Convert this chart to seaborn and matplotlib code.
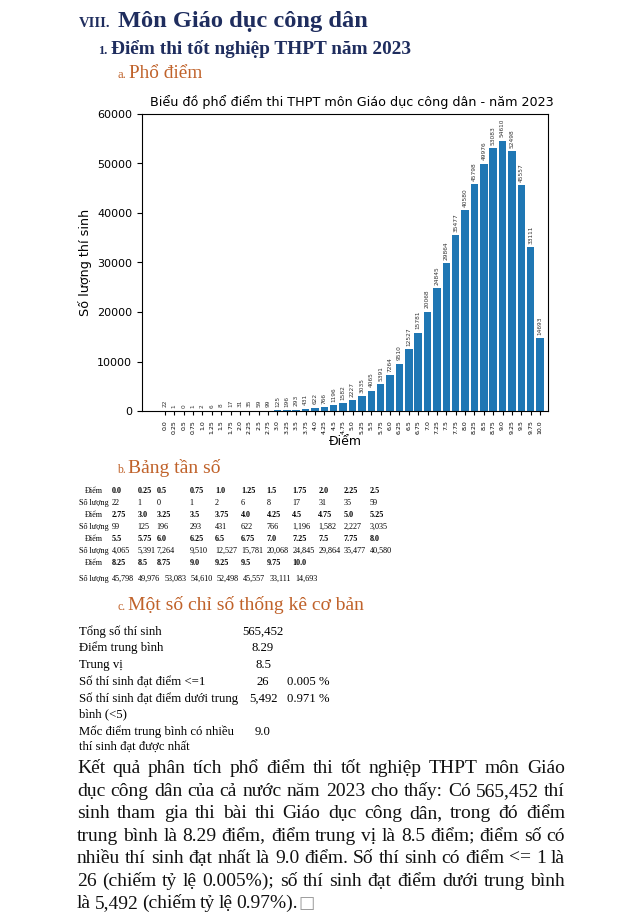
import matplotlib
matplotlib.use("Agg")
import matplotlib.pyplot as plt
import seaborn as sns

# du lieu pho diem
scores = ["0.0", "0.25", "0.5", "0.75", "1.0", "1.25", "1.5", "1.75", "2.0", "2.25", "2.5",
          "2.75", "3.0", "3.25", "3.5", "3.75", "4.0", "4.25", "4.5", "4.75", "5.0", "5.25",
          "5.5", "5.75", "6.0", "6.25", "6.5", "6.75", "7.0", "7.25", "7.5", "7.75", "8.0",
          "8.25", "8.5", "8.75", "9.0", "9.25", "9.5", "9.75", "10.0"]
counts = [22, 1, 0, 1, 2, 6, 8, 17, 31, 35, 59,
          99, 125, 196, 293, 431, 622, 766, 1196, 1582, 2227, 3035,
          4065, 5391, 7264, 9510, 12527, 15781, 20068, 24845, 29864, 35477, 40580,
          45798, 49976, 53083, 54610, 52498, 45557, 33111, 14693]

stat_labels = [["Tổng số thí sinh"], ["Điểm trung bình"], ["Trung vị"], ["Số thí sinh đạt điểm <=1"],
               ["Số thí sinh đạt điểm dưới trung", "bình (<5)"],
               ["Mốc điểm trung bình có nhiều", "thí sinh đạt được nhất"]]
stat_values = ["565,452", "8.29", "8.5", "26", "5,492", "9.0"]
stat_pcts = ["", "", "", "0.005 %", "0.971 %", ""]

paragraph = [
    "Kết quả phân tích phổ điểm thi tốt nghiệp THPT môn Giáo",
    "dục công dân của cả nước năm 2023 cho thấy: Có 565,452 thí",
    "sinh tham gia thi bài thi Giáo dục công dân, trong đó điểm",
    "trung bình là 8.29 điểm, điểm trung vị là 8.5 điểm; điểm số có",
    "nhiều thí sinh đạt nhất là 9.0 điểm. Số thí sinh có điểm <= 1 là",
    "26 (chiếm tỷ lệ 0.005%); số thí sinh đạt điểm dưới trung bình",
    "là 5,492 (chiếm tỷ lệ 0.97%).",
]

W, H = 640, 922
NAVY = "#1f2d5e"
ORANGE = "#c0622a"
SERIF = ["Liberation Serif", "DejaVu Serif", "DejaVu Sans"]

fig = plt.figure(figsize=(W / 100, H / 100), dpi=100)
fig.patch.set_facecolor("white")


def put(x, y, s, **kw):
    kw.setdefault("family", SERIF)
    kw.setdefault("va", "baseline")
    return fig.text(x / W, 1 - y / H, s, **kw)


# headings
put(79, 27, "VIII.", fontsize=10.5, weight="bold", color=NAVY)
put(118, 27, "Môn Giáo dục công dân", fontsize=17.6, weight="bold", color=NAVY)
put(98, 54, "1.", fontsize=9, weight="bold", color=NAVY)
put(111, 54, "Điểm thi tốt nghiệp THPT năm 2023", fontsize=13.9, weight="bold", color=NAVY)
put(117, 78, "a.", fontsize=9, color=ORANGE)
put(129, 78, "Phổ điểm", fontsize=13.9, color=ORANGE)

# bieu do
ax = fig.add_axes([142 / W, 1 - 411 / H, 406 / W, (411 - 114) / H])
sns.barplot(x=scores, y=counts, color="#1f77b4", saturation=1, width=0.8, ax=ax)
for i, v in enumerate(counts):
    ax.text(i, v + 700, str(v), rotation=90, ha="center", va="bottom", fontsize=4.2, color="#333333")
ax.set_xlim(-2.45, len(scores) - 1 + 0.85)
ax.set_ylim(0, 60000)
ax.set_yticks(range(0, 60001, 10000))
ax.tick_params(axis="y", labelsize=8)
ax.tick_params(axis="x", labelsize=4.5, labelrotation=90, length=3)
ax.set_xlabel("Điểm", fontsize=9, labelpad=1)
ax.set_ylabel("Số lượng thí sinh", fontsize=9.2)
ax.set_title("Biểu đồ phổ điểm thi THPT môn Giáo dục công dân - năm 2023", fontsize=9.2, x=0.517)

# bang tan so
put(117, 473, "b.", fontsize=8.5, color=ORANGE)
put(128, 473, "Bảng tần số", fontsize=14, color=ORANGE)
col_x = [111.7, 137.3, 156.7, 189.3, 215, 241, 266.7, 292.3, 318.3, 344, 370]
row_y = [493, 505, 517, 529, 541, 553, 565]
fs_t = 5.9
for r in range(4):
    part_s = scores[r * 11:(r + 1) * 11]
    part_c = counts[r * 11:(r + 1) * 11]
    put(85, row_y[2 * r], "Điểm", fontsize=fs_t)
    for cx, s in zip(col_x, part_s):
        put(cx, row_y[2 * r], s, fontsize=fs_t, weight="bold")
    if r < 3:
        put(79, row_y[2 * r + 1], "Số lượng", fontsize=fs_t)
        for cx, c in zip(col_x, part_c):
            put(cx, row_y[2 * r + 1], f"{c:,}", fontsize=fs_t)
    else:
        put(79, 581, "Số lượng", fontsize=fs_t)
        for j, c in enumerate(part_c):
            put(111.7 + j * 26.3, 581, f"{c:,}", fontsize=fs_t)

# chi so thong ke
put(117, 610, "c.", fontsize=8.5, color=ORANGE)
put(128, 610, "Một số chỉ số thống kê cơ bản", fontsize=14, color=ORANGE)
stat_y = [635, 651, 668, 685, 702, 735]
fs_s = 9.2
for y, lab, val, pct in zip(stat_y, stat_labels, stat_values, stat_pcts):
    for j, part in enumerate(lab):
        put(79, y + j * 15, part, fontsize=fs_s)
    put(263, y, val, fontsize=fs_s, ha="center")
    if pct:
        put(287, y, pct, fontsize=fs_s)

# doan van, can deu hai ben
fig.canvas.draw()
renderer = fig.canvas.get_renderer()
x0, x1 = 77, 565
fs_p = 14
para_y = [773, 796, 818, 841, 863, 886, 908]
for k, (line, y) in enumerate(zip(paragraph, para_y)):
    words = line.split(" ")
    widths = []
    for w in words:
        t = put(0, 0, w, fontsize=fs_p)
        widths.append(t.get_window_extent(renderer).width)
        t.remove()
    last = k == len(paragraph) - 1
    gap = 3.6 if last else (x1 - x0 - sum(widths)) / (len(words) - 1)
    x = x0
    for w, wd in zip(words, widths):
        put(x, y, w, fontsize=fs_p, color="#111111")
        x += wd + gap
    if last:
        put(x - gap + 1, y, "□", fontsize=12.5, family="DejaVu Sans", color="#999999")

fig.savefig("out.png", dpi=100)
